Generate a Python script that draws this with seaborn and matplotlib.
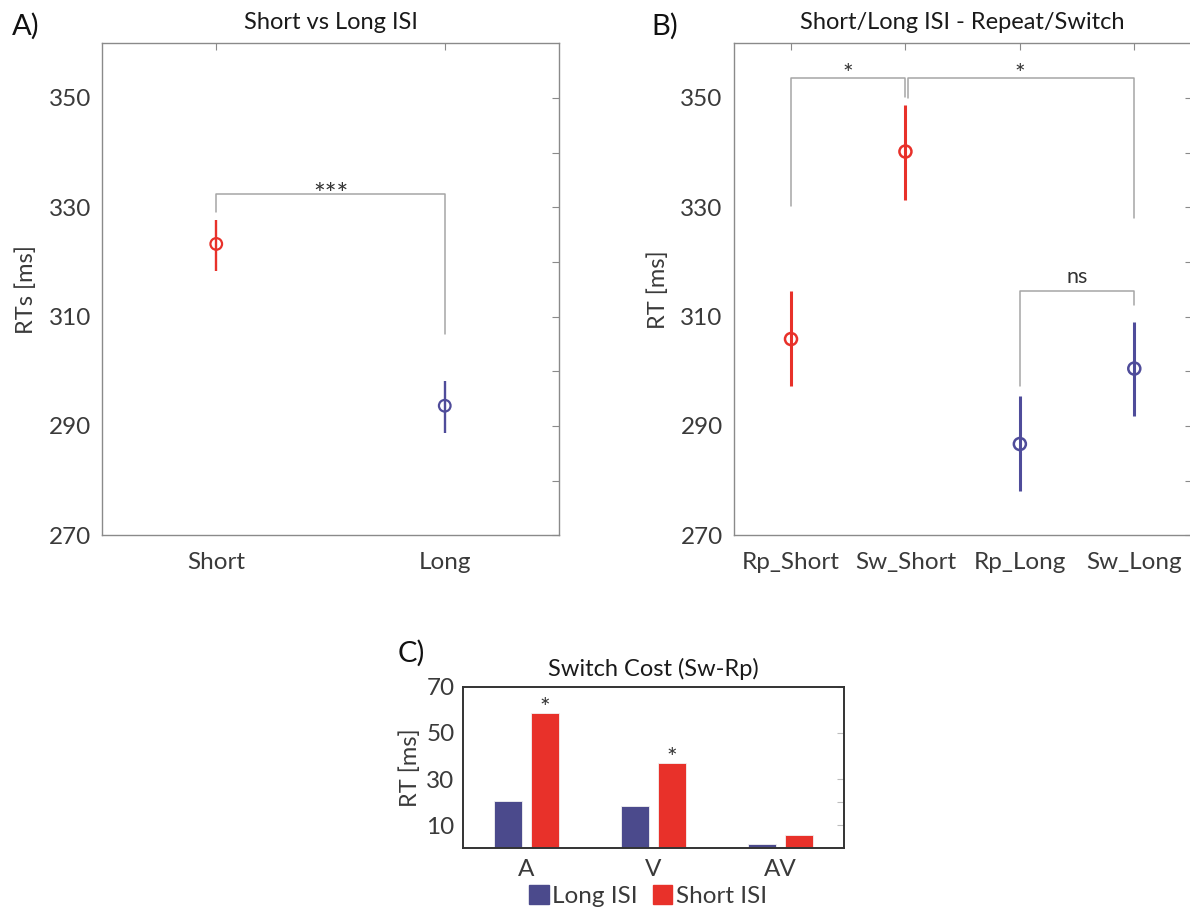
import numpy as np
import pandas as pd
import matplotlib
matplotlib.use("Agg")
import matplotlib.pyplot as plt
import seaborn as sns

# ---- data ----
isi_labels = ["Short", "Long"]
isi_mean = [323.3, 293.7]
isi_low = [318.4, 288.8]
isi_high = [327.7, 298.2]

cond_labels = ["Rp_Short", "Sw_Short", "Rp_Long", "Sw_Long"]
cond_mean = [305.9, 340.2, 286.7, 300.5]
cond_low = [297.3, 331.4, 278.1, 291.8]
cond_high = [314.6, 348.7, 295.4, 309.0]

modality = ["A", "V", "AV"]
cost_long = [20.4, 18.3, 1.7]
cost_short = [58.8, 36.8, 5.6]
isi_groups = ["Long ISI", "Short ISI"]

RED = "#E8312A"
BLUE = "#4F4C9A"
BAR_BLUE = "#4B4A8C"
GRAY_TXT = "#3a3a3a"
SPINE = "#8a8a8a"
BRACKET = "#a6a6a6"
STAR = "#333333"

sns.set_style("white")
plt.rcParams["font.family"] = ["Lato", "DejaVu Sans"]

W, H = 1190, 909
fig = plt.figure(figsize=(W / 100, H / 100), dpi=100)


def px_axes(left, right, top, bottom):
    return fig.add_axes([left / W, 1 - bottom / H, (right - left) / W, (bottom - top) / H])


def style_rt_axes(ax, ylabel):
    ax.set_ylim(270, 360)
    ax.set_yticks(np.arange(270, 360, 10))
    ax.set_yticklabels([str(v) if (v - 270) % 20 == 0 else "" for v in range(270, 360, 10)])
    ax.tick_params(axis="both", direction="in", length=5, width=0.8, color=SPINE,
                   labelcolor=GRAY_TXT, labelsize=17.5, top=True, right=True, pad=8)
    ax.tick_params(axis="x", pad=12)
    for s in ax.spines.values():
        s.set_color(SPINE)
        s.set_linewidth(1.0)
        s.set_visible(True)
    ax.set_ylabel(ylabel, fontsize=17, color=GRAY_TXT, labelpad=8)
    ax.set_xlabel("")


def bracket(ax, x1, x2, y, y1, y2):
    ax.plot([x1, x1, x2, x2], [y1, y, y, y2], color=BRACKET, lw=1.1, zorder=1)


# ---- panel A ----
axA = px_axes(102, 559, 43.3, 535.3)
dfA = pd.DataFrame({"isi": isi_labels, "rt": isi_mean})
xa = np.arange(1, len(isi_labels) + 1)
colA = [RED, BLUE]
for x, lo, hi, c in zip(xa, isi_low, isi_high, colA):
    axA.vlines(x, lo, hi, color=c, lw=1.7, zorder=2)
sns.scatterplot(x=xa, y=dfA["rt"], ax=axA, marker="o", s=70, legend=False, zorder=3)
axA.collections[-1].set_facecolor("none")
axA.collections[-1].set_edgecolor(colA)
axA.collections[-1].set_linewidth(1.6)
axA.set_xlim(0.5, 2.5)
axA.set_xticks(xa)
axA.set_xticklabels(isi_labels)
style_rt_axes(axA, "RTs [ms]")
bracket(axA, 1, 2, 332.4, 329.2, 306.8)
axA.text(1.5, 330.6, "***", ha="center", va="baseline", fontsize=20, color=STAR)
axA.set_title("Short vs Long ISI", fontsize=17, color="#1a1a1a", pad=10)
fig.text(12 / W, 1 - 26 / H, "A)", fontsize=21, ha="left", va="center", color="#111111")

# ---- panel B ----
axB = px_axes(733.8, 1191.5, 43.3, 535.3)
xb = np.arange(1, len(cond_labels) + 1)
colB = [RED, RED, BLUE, BLUE]
for x, lo, hi, c in zip(xb, cond_low, cond_high, colB):
    axB.vlines(x, lo, hi, color=c, lw=2.2, zorder=2)
dfB = pd.DataFrame({"cond": cond_labels, "rt": cond_mean})
sns.scatterplot(x=xb, y=dfB["rt"], ax=axB, marker="o", s=75, legend=False, zorder=3)
axB.collections[-1].set_facecolor("none")
axB.collections[-1].set_edgecolor(colB)
axB.collections[-1].set_linewidth(1.8)
axB.set_xlim(0.5, 4.5)
axB.set_xticks(xb)
axB.set_xticklabels(cond_labels)
style_rt_axes(axB, "RT [ms]")
bracket(axB, 1, 1.995, 353.7, 330.2, 350.2)
bracket(axB, 2.02, 4, 353.7, 350.0, 328.1)
bracket(axB, 3, 4, 314.6, 297.3, 312.2)
axB.text(1.5, 352.9, "*", ha="center", va="baseline", fontsize=18, color=STAR)
axB.text(3.0, 352.9, "*", ha="center", va="baseline", fontsize=18, color=STAR)
axB.text(3.5, 315.4, "ns", ha="center", va="bottom", fontsize=15.5, color=STAR)
axB.set_title("Short/Long ISI - Repeat/Switch", fontsize=17, color="#1a1a1a", pad=10)
fig.text(651 / W, 1 - 26 / H, "B)", fontsize=21, ha="left", va="center", color="#111111")

# ---- panel C ----
axC = px_axes(463, 844, 686.7, 848.3)
dfC = pd.DataFrame({
    "modality": modality * 2,
    "cost": cost_long + cost_short,
    "isi": [isi_groups[0]] * len(modality) + [isi_groups[1]] * len(modality),
})
sns.barplot(data=dfC, x="modality", y="cost", hue="isi", hue_order=isi_groups,
            palette=[BAR_BLUE, RED], saturation=1, width=0.58, gap=0.24, ax=axC,
            edgecolor="#f2f2f2", linewidth=0.6, legend=False)
axC.set_xlim(-0.5, 2.5)
axC.set_ylim(0, 70)
axC.set_yticks([10, 20, 30, 50, 70])
axC.set_yticklabels(["10", "", "30", "50", "70"])
axC.tick_params(axis="both", direction="in", length=5, width=0.8, color="#bdbdbd",
                labelcolor=GRAY_TXT, labelsize=17.5, right=True, pad=6)
axC.tick_params(axis="x", length=0, pad=8)
for s in axC.spines.values():
    s.set_color("#333333")
    s.set_linewidth(1.4)
    s.set_visible(True)
axC.set_xlabel("")
axC.set_ylabel("RT [ms]", fontsize=17, color=GRAY_TXT, labelpad=4)
for i, base in [(0, 57.3), (1, 35.6)]:
    axC.text(i + 0.145, base, "*", ha="center", va="baseline", fontsize=18, color=STAR)
axC.set_title("Switch Cost (Sw-Rp)", fontsize=17, color="#1a1a1a", pad=8)
fig.text(398 / W, 1 - 653 / H, "C)", fontsize=21, ha="left", va="center", color="#111111")

handles = [plt.Rectangle((0, 0), 1, 1, color=c) for c in [BAR_BLUE, RED]]
fig.legend(handles, isi_groups, loc="center", bbox_to_anchor=(648 / W, 1 - 896 / H),
           ncol=2, frameon=False, fontsize=17.5, handlelength=0.8, handleheight=0.8,
           handletextpad=0.15, columnspacing=0.6, labelcolor=GRAY_TXT)

fig.savefig("out.png", dpi=100)
